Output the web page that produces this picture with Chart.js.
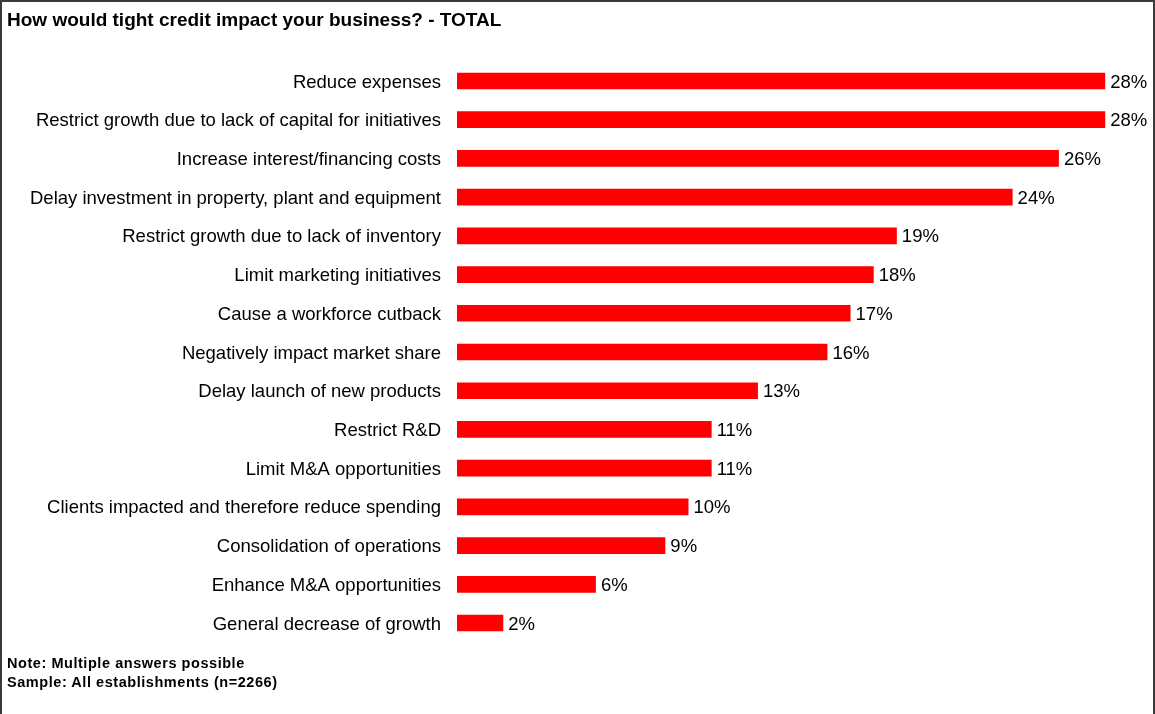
<!DOCTYPE html>
<html>
<head>
<meta charset="utf-8">
<script src="https://cdn.jsdelivr.net/npm/chart.js@4"></script>
<style>
  html, body { margin: 0; padding: 0; background: #fff; }
  #wrap { position: relative; width: 1155px; height: 714px; overflow: hidden; }
  #frame {
    position: absolute; left: 0; top: 0; width: 1151px; height: 720px;
    border: 2px solid #3a3a3a; box-sizing: content-box; pointer-events: none;
  }
  canvas { position: absolute; left: 0; top: 0; }
  .title {
    position: absolute; left: 7px; top: 9px;
    font: bold 19px "Liberation Sans", Arial, sans-serif; color: #000;
  }
  .note {
    position: absolute; left: 7px;
    font: bold 14.5px "Liberation Sans", Arial, sans-serif; color: #000; letter-spacing: 0.55px;
  }
</style>
</head>
<body>
<div id="wrap">
  <canvas id="creditChart" width="1155" height="714"></canvas>
  <div class="title">How would tight credit impact your business? - TOTAL</div>
  <div class="note" style="top:655px">Note: Multiple answers possible</div>
  <div class="note" style="top:674px">Sample: All establishments (n=2266)</div>
  <div id="frame"></div>
</div>
<script>
// Survey answers, top to bottom
const categories = [
  'Reduce expenses',
  'Restrict growth due to lack of capital for initiatives',
  'Increase interest/financing costs',
  'Delay investment in property, plant and equipment',
  'Restrict growth due to lack of inventory',
  'Limit marketing initiatives',
  'Cause a workforce cutback',
  'Negatively impact market share',
  'Delay launch of new products',
  'Restrict R&D',
  'Limit M&A opportunities',
  'Clients impacted and therefore reduce spending',
  'Consolidation of operations',
  'Enhance M&A opportunities',
  'General decrease of growth'
];
// Share of respondents (%)
const shares = [28, 28, 26, 24, 19, 18, 17, 16, 13, 11, 11, 10, 9, 6, 2];

const FONT = '"Liberation Sans", Arial, sans-serif';

// Writes "NN%" just past the end of each bar
const valueLabels = {
  id: 'valueLabels',
  afterDatasetsDraw(chart) {
    const ctx = chart.ctx;
    const meta = chart.getDatasetMeta(0);
    ctx.save();
    ctx.font = '18.5px ' + FONT;
    ctx.fillStyle = '#000';
    ctx.textAlign = 'left';
    ctx.textBaseline = 'middle';
    meta.data.forEach(function(bar, i) {
      ctx.fillText(shares[i] + '%', bar.x + 5, bar.y + 1.5);
    });
    ctx.restore();
  }
};

const ctx = document.getElementById('creditChart').getContext('2d');
new Chart(ctx, {
  type: 'bar',
  data: {
    labels: categories,
    datasets: [{
      data: shares,
      backgroundColor: '#ff0000',
      borderWidth: 0,
      barPercentage: 0.43,
      categoryPercentage: 1
    }]
  },
  options: {
    indexAxis: 'y',
    responsive: false,
    animation: false,
    devicePixelRatio: 1,
    layout: { padding: { top: 61.6, bottom: 71.6, left: 0, right: 3.5 } },
    plugins: {
      legend: { display: false },
      tooltip: { enabled: false }
    },
    scales: {
      x: { display: false, min: 0, max: 30 },
      y: {
        grid: { display: false, drawTicks: false },
        border: { display: false },
        ticks: {
          color: '#000',
          padding: 16,
          crossAlign: 'near',
          labelOffset: 1.5,
          font: { family: FONT, size: 18.5 }
        },
        afterFit: function(scale) { scale.width = 457; }
      }
    }
  },
  plugins: [valueLabels]
});
</script>
</body>
</html>
